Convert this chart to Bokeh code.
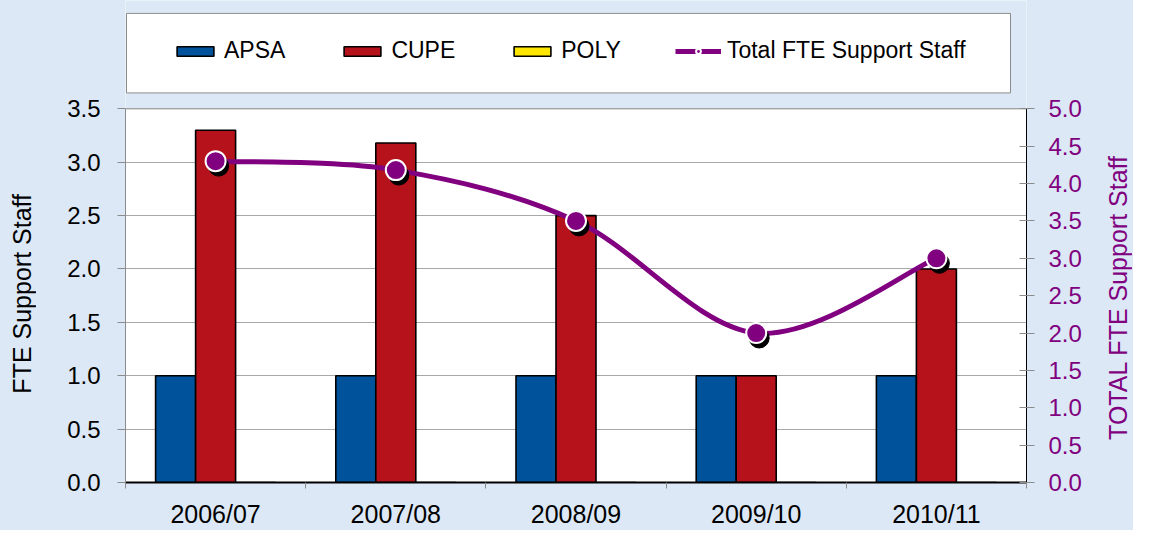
import math
from bokeh.plotting import figure
from bokeh.layouts import row
from bokeh.models import (Range1d, LinearAxis, FixedTicker, PrintfTickFormatter,
                          Legend, LegendItem, Div, BoxAnnotation, Span)
from bokeh.embed import file_html
from bokeh.resources import INLINE

# ---------------- data ----------------
categories = ["2006/07", "2007/08", "2008/09", "2009/10", "2010/11"]
apsa = [1.0, 1.0, 1.0, 1.0, 1.0]
cupe = [3.3, 3.18, 2.5, 1.0, 2.0]
poly = [0.0, 0.0, 0.0, 0.0, 0.0]
total = [4.3, 4.18, 3.5, 2.0, 3.0]
left_ticks = [0.0, 0.5, 1.0, 1.5, 2.0, 2.5, 3.0, 3.5]
right_ticks = [0.0, 0.5, 1.0, 1.5, 2.0, 2.5, 3.0, 3.5, 4.0, 4.5, 5.0]
left_title = "FTE Support Staff"
right_title = "TOTAL FTE Support Staff"
LEFT_MAX, RIGHT_MAX = 3.5, 5.0

# ---------------- styles / layout (pixels) ----------------
FONT = "Liberation Sans"
BLUE = "#00539b"
RED = "#b5121b"
YELLOW = "#ffe600"
PURPLE = "#800080"
BG = "#dce8f5"
GRID = "#a8a8a8"
EDGE = "#8c8c8c"

TOTAL_W, H = 1133, 530
DIV_L, DIV_R = 40, 38
W = TOTAL_W - DIV_L - DIV_R
PLOT_L, PLOT_R, PLOT_T, PLOT_B = 125, 1026, 109, 485   # plot area on the page
BL = PLOT_L - DIV_L
BR = DIV_L + W - PLOT_R
BT = 0
BB = H - PLOT_B
FW = PLOT_R - PLOT_L
FH = PLOT_B - BT
PH = PLOT_B - PLOT_T
NC = len(categories)

def px_x(px):   # page x pixel -> data x
    return (px - PLOT_L) * NC / FW

def px_y(py):   # page y pixel -> left-axis data y
    return (PLOT_B - py) * LEFT_MAX / PH

p = figure(width=W, height=H, x_range=Range1d(0, NC),
           y_range=Range1d(0, LEFT_MAX * FH / PH), output_backend="svg",
           toolbar_location=None, min_border_left=BL, min_border_right=BR,
           min_border_top=BT, min_border_bottom=BB)
p.border_fill_color = BG
p.background_fill_color = "white"
p.outline_line_color = None
p.extra_y_ranges = {"right": Range1d(0, RIGHT_MAX * FH / PH)}

centers = [i + 0.5 for i in range(NC)]
bw = 0.222
x_apsa = [c - bw for c in centers]
x_poly = [c + bw for c in centers]

r_apsa = p.vbar(x=x_apsa, top=apsa, width=bw, fill_color=BLUE, line_color="black", line_width=1.6)
r_cupe = p.vbar(x=centers, top=cupe, width=bw, fill_color=RED, line_color="black", line_width=1.6)
r_poly = p.vbar(x=x_poly, top=poly, width=bw, fill_color=YELLOW, line_color="black", line_width=1.6)

# smoothed line (Catmull-Rom -> cubic Bezier)
n = len(total)
x0s, y0s, x1s, y1s, cx0, cy0, cx1, cy1 = [], [], [], [], [], [], [], []
for i in range(n - 1):
    pa = (centers[max(i - 1, 0)], total[max(i - 1, 0)])
    pb = (centers[i], total[i])
    pc = (centers[i + 1], total[i + 1])
    pd = (centers[min(i + 2, n - 1)], total[min(i + 2, n - 1)])
    x0s.append(pb[0]); y0s.append(pb[1]); x1s.append(pc[0]); y1s.append(pc[1])
    cx0.append(pb[0] + (pc[0] - pa[0]) / 6.0); cy0.append(pb[1] + (pc[1] - pa[1]) / 6.0)
    cx1.append(pc[0] - (pd[0] - pb[0]) / 6.0); cy1.append(pc[1] - (pd[1] - pb[1]) / 6.0)

r_line = p.bezier(x0=x0s, y0=y0s, x1=x1s, y1=y1s, cx0=cx0, cy0=cy0, cx1=cx1, cy1=cy1,
                  y_range_name="right", line_color=PURPLE, line_width=5)

# marker shadows (offset a few pixels down-right)
dx = 3.0 * NC / FW
dy = 5.0 * RIGHT_MAX / PH
p.scatter(x=[c + dx for c in centers], y=[t - dy for t in total], y_range_name="right",
          size=20, fill_color="black", line_color="black")
r_pts = p.scatter(x=centers, y=total, y_range_name="right", size=20,
                  fill_color=PURPLE, line_color="white", line_width=2)

# ---------------- axes ----------------
xa = p.xaxis[0]
xa.ticker = FixedTicker(ticks=centers, minor_ticks=list(range(NC + 1)))
xa.major_label_overrides = {c: lab for c, lab in zip(centers, categories)}
xa.major_tick_line_color = None
xa.minor_tick_line_color = EDGE
xa.minor_tick_out = 6
xa.minor_tick_in = 0
xa.axis_line_color = "black"
xa.axis_line_width = 2
xa.major_label_text_font = FONT
xa.major_label_text_font_size = "25px"
xa.major_label_text_color = "black"
xa.major_label_standoff = 11

ya = p.yaxis[0]
ya.bounds = (0, LEFT_MAX)
ya.ticker = FixedTicker(ticks=left_ticks, minor_ticks=[])
ya.formatter = PrintfTickFormatter(format="%.1f")
ya.axis_line_color = EDGE
ya.major_tick_line_color = EDGE
ya.major_tick_out = 8
ya.major_tick_in = 0
ya.minor_tick_line_color = None
ya.major_label_text_font = FONT
ya.major_label_text_font_size = "24px"
ya.major_label_text_color = "black"
ya.major_label_standoff = 17

ar = LinearAxis(y_range_name="right", bounds=(0, RIGHT_MAX),
                ticker=FixedTicker(ticks=right_ticks, minor_ticks=[]),
                formatter=PrintfTickFormatter(format="%.1f"))
ar.axis_line_color = "black"
ar.major_tick_line_color = EDGE
ar.major_tick_out = 8
ar.major_tick_in = 7
ar.minor_tick_line_color = None
ar.major_label_text_font = FONT
ar.major_label_text_font_size = "24px"
ar.major_label_text_color = PURPLE
ar.major_label_standoff = 14
p.add_layout(ar, "right")

p.xgrid.visible = False
p.ygrid.ticker = FixedTicker(ticks=left_ticks, minor_ticks=[])
p.ygrid.grid_line_color = GRID
p.ygrid.grid_line_width = 1

# background band above the plot area, plot-area top edge
p.add_layout(BoxAnnotation(bottom=LEFT_MAX, fill_color=BG, fill_alpha=1.0,
                           line_color=None, level="underlay"))
p.add_layout(Span(location=LEFT_MAX, dimension="width", line_color=EDGE, line_width=1))

# ---------------- legend ----------------
p.add_layout(BoxAnnotation(left=px_x(PLOT_L + 1), right=px_x(1010), top=px_y(13), bottom=px_y(93),
                           fill_color="white", fill_alpha=1.0,
                           line_color=EDGE, line_width=1, line_alpha=1.0))

legend = Legend(items=[
    LegendItem(label="APSA", renderers=[r_apsa]),
    LegendItem(label="CUPE", renderers=[r_cupe]),
    LegendItem(label="POLY", renderers=[r_poly]),
    LegendItem(label="Total FTE Support Staff", renderers=[r_line, r_pts]),
], orientation="horizontal", location=(172 - PLOT_L, PLOT_B - 67))
legend.padding = 0
legend.margin = 0
legend.spacing = 54
legend.glyph_width = 46
legend.glyph_height = 12
legend.label_standoff = 6
legend.label_text_font = FONT
legend.label_text_font_size = "23px"
legend.label_text_color = "black"
legend.border_line_color = None
legend.background_fill_alpha = 0
p.add_layout(legend)

# ---------------- axis titles (rotated, reading bottom to top) ----------------
def vtitle(text, color, top, left, width):
    return Div(
        text=('<div style="writing-mode: vertical-rl; transform: rotate(180deg); '
              'font-family: \'Liberation Sans\'; font-size: 25px; color: %s; '
              'white-space: nowrap; line-height: 30px; margin-top: %dpx; margin-left: %dpx;">%s</div>'
              % (color, top, left, text)),
        width=width, height=H,
        styles={"background-color": BG, "margin": "0", "padding": "0"},
    )

div_l = vtitle(left_title, "black", 194, 7, DIV_L)
div_r = vtitle(right_title, PURPLE, 156, 8, DIV_R)

layout = row(div_l, p, div_r, spacing=0, styles={"background-color": BG})
open("out.html", "w").write(file_html(layout, INLINE))
